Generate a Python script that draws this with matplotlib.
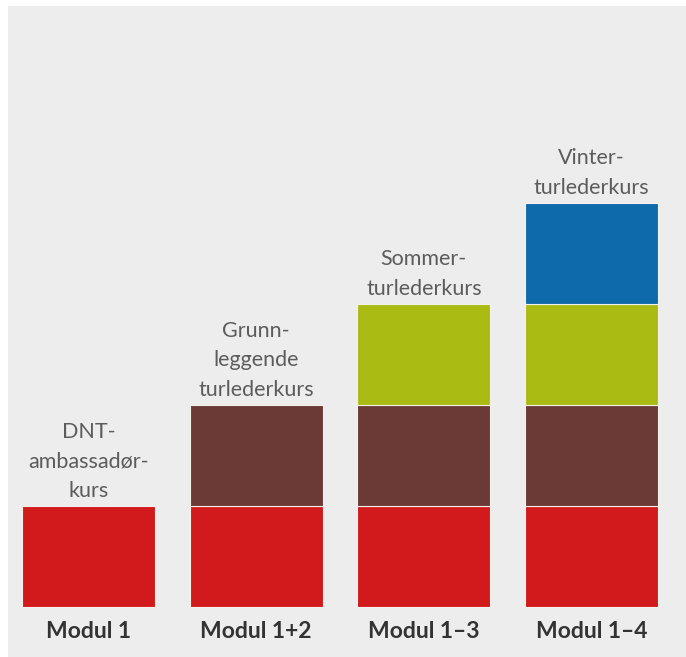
import matplotlib
matplotlib.use("Agg")
import matplotlib.pyplot as plt

categories = ["Modul 1", "Modul 1+2", "Modul 1–3", "Modul 1–4"]
segment_names = ["Modul 1", "Modul 2", "Modul 3", "Modul 4"]
# each bar contains this many unit segments
segments_per_bar = [1, 2, 3, 4]
segment_value = 1
segment_colors = ["#d2191c", "#6c3a36", "#aabb14", "#0e6aab"]
top_labels = ["DNT-\nambassadør-\nkurs", "Grunn-\nleggende\nturlederkurs",
              "Sommer-\nturlederkurs", "Vinter-\nturlederkurs"]

W, H = 686, 657
fig = plt.figure(figsize=(W / 100, H / 100), dpi=100, facecolor="white")
ax = fig.add_axes([8 / W, 0, (W - 8) / W, (H - 6) / H])
ax.set_facecolor("#ededed")

unit_x = 167.67
unit_y = 101.0
x0 = 88.5
y0 = 50.0
ax.set_xlim((8 - x0) / unit_x, (W - x0) / unit_x)
ax.set_ylim(-y0 / unit_y, (H - 6 - y0) / unit_y)
for s in ax.spines.values():
    s.set_visible(False)
ax.set_xticks([])
ax.set_yticks([])

bar_w = 133 / unit_x
for i, n in enumerate(segments_per_bar):
    bottom = 0
    for k in range(n):
        ax.bar(i, segment_value, bottom=bottom, width=bar_w,
               color=segment_colors[k], edgecolor="#f4f0ea", linewidth=0.8)
        bottom += segment_value
    ax.text(i, bottom + 5 / unit_y, top_labels[i], ha="center", va="bottom",
            fontsize=15.5, color="#5c5c5c", family="Lato", linespacing=1.6)
    ax.text(i, -25 / unit_y, categories[i], ha="center", va="center",
            fontsize=16.5, color="#333333", family="Lato", fontweight="bold")

fig.savefig("out.png", dpi=100, facecolor="white")
